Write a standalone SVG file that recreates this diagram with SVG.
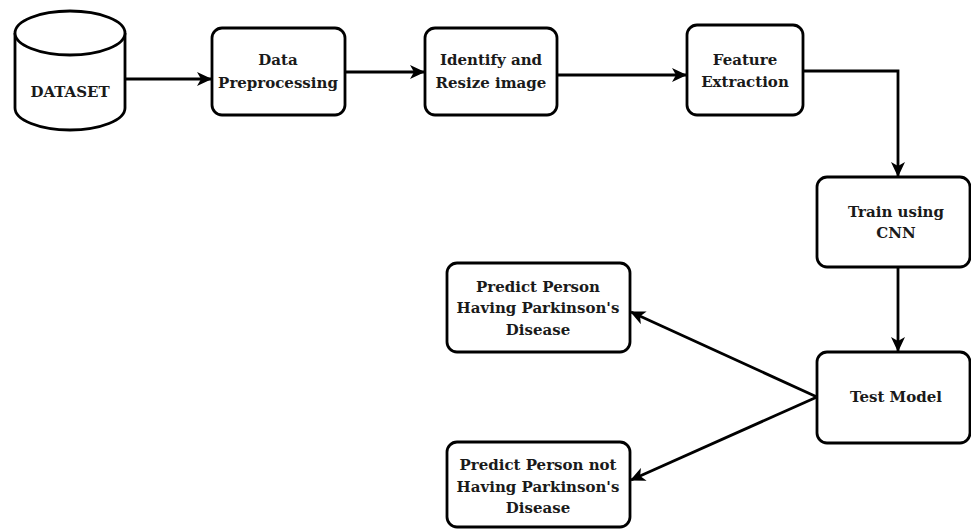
<svg xmlns="http://www.w3.org/2000/svg" width="971" height="529" viewBox="0 0 971 529">
<defs>
<style>
.n{fill:#fff;stroke:#000;stroke-width:2.8}
.t{font-family:"DejaVu Serif","Liberation Serif",serif;font-weight:bold;font-size:15px;fill:#1a1a1a;text-anchor:middle}
.c{fill:none;stroke:#000;stroke-width:2.8;marker-end:url(#ah)}
</style>
<marker id="ah" viewBox="0 0 15 14" refX="14" refY="7" markerWidth="15" markerHeight="14" markerUnits="userSpaceOnUse" orient="auto">
<path d="M0,0 L15,7 L0,14 L4,7 z" fill="#000"/>
</marker>
</defs>
<rect width="971" height="529" fill="#fff"/>
<g id="connectors">
<path class="c" d="M125,79 L211,79"/>
<path class="c" d="M345,72 L424,72"/>
<path class="c" d="M557,75 L686,75"/>
<path class="c" d="M803,71 L898,71 L898,176"/>
<path class="c" d="M898,267 L898,351"/>
<path class="c" d="M817,397 L631,312"/>
<path class="c" d="M817,397 L631,480"/>
</g>
<g id="dataset">
<path class="n" d="M15,33 L15,108 A55,22 0 0 0 125,108 L125,33 A55,22 0 0 0 15,33 Z"/>
<path class="n" d="M15,33 A55,22 0 0 0 125,33" fill="none"/>
<text class="t" x="70" y="97">DATASET</text>
</g>
<g id="preprocessing">
<rect class="n" x="212" y="28" width="133" height="87" rx="10"/>
<text class="t" x="278" y="65">Data</text>
<text class="t" x="278" y="88">Preprocessing</text>
</g>
<g id="resize">
<rect class="n" x="425" y="28" width="132" height="87" rx="10"/>
<text class="t" x="491" y="65">Identify and</text>
<text class="t" x="491" y="88">Resize image</text>
</g>
<g id="feature">
<rect class="n" x="687" y="25" width="116" height="90" rx="10"/>
<text class="t" x="745" y="65">Feature</text>
<text class="t" x="745" y="87">Extraction</text>
</g>
<g id="train">
<rect class="n" x="817" y="177" width="153" height="90" rx="10"/>
<text class="t" x="896" y="217">Train using</text>
<text class="t" x="896" y="238">CNN</text>
</g>
<g id="test">
<rect class="n" x="817" y="352" width="153" height="91" rx="10"/>
<text class="t" x="896" y="402">Test Model</text>
</g>
<g id="predict-yes">
<rect class="n" x="447" y="263" width="183" height="89" rx="10"/>
<text class="t" x="538" y="292">Predict Person</text>
<text class="t" x="538" y="313">Having Parkinson's</text>
<text class="t" x="538" y="335">Disease</text>
</g>
<g id="predict-no">
<rect class="n" x="447" y="442" width="183" height="85" rx="10"/>
<text class="t" x="538" y="470">Predict Person not</text>
<text class="t" x="538" y="492">Having Parkinson's</text>
<text class="t" x="538" y="513">Disease</text>
</g>
</svg>
